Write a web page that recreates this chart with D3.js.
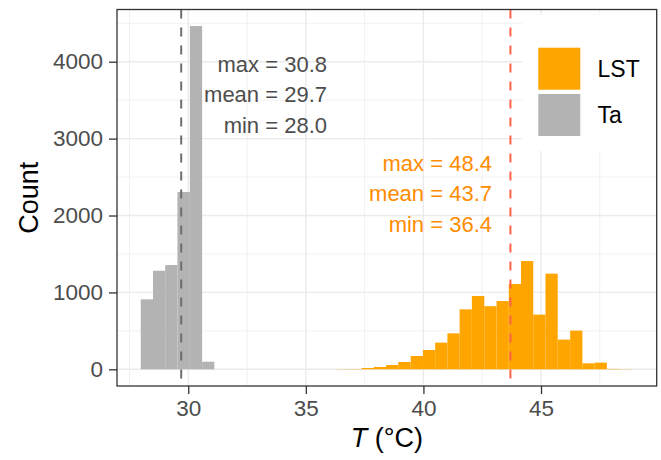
<!DOCTYPE html>
<html>
<head>
<meta charset="utf-8">
<script src="https://cdn.jsdelivr.net/npm/d3@7"></script>
<style>
  html, body { margin: 0; padding: 0; background: #ffffff; }
  svg { display: block; font-family: "Liberation Sans", Arial, sans-serif; }
</style>
</head>
<body>
<svg id="chart" width="661" height="460"></svg>
<script>
// ---- data ----
const taEdges  = [27.98, 28.50, 29.02, 29.54, 30.07, 30.59, 31.11];
const taCounts = [910, 1282, 1356, 2306, 4464, 99];
const lstEdges = [36.33, 36.85, 37.37, 37.89, 38.41, 38.93, 39.46, 39.98, 40.50, 41.02,
                  41.54, 42.06, 42.59, 43.11, 43.63, 44.15, 44.67, 45.19, 45.71, 46.24,
                  46.76, 47.28, 47.80, 48.32, 48.84];
const lstCounts = [3, 4, 17, 30, 56, 95, 173, 251, 347, 468, 780, 953, 821, 888, 1109,
                   1408, 711, 1244, 386, 503, 78, 87, 5, 3];
const seriesNames = ["LST", "Ta"];
const taStats  = ["max = 30.8", "mean = 29.7", "min = 28.0"];
const lstStats = ["max = 48.4", "mean = 43.7", "min = 36.4"];
const taMean = 29.7, lstMean = 43.7;
const xTicks = [30, 35, 40, 45];
const xMinor = [27.5, 32.5, 37.5, 42.5, 47.5];
const yTicks = [0, 1000, 2000, 3000, 4000];
const yMinor = [500, 1500, 2500, 3500, 4500];

// ---- layout ----
const svg = d3.select("#chart");
const P = { left: 117, right: 656.7, top: 9.5, bottom: 386 };
const x = d3.scaleLinear().domain([26.97, 49.92]).range([P.left, P.right]);
const y = d3.scaleLinear().domain([-217, 4679]).range([P.bottom, P.top]);
const colors = { LST: "#FFA500", Ta: "#B3B3B3" };

// panel background
svg.append("rect").attr("x", P.left).attr("y", P.top)
  .attr("width", P.right - P.left).attr("height", P.bottom - P.top).attr("fill", "#fff");

const grid = svg.append("g");
grid.selectAll(".xm").data(xMinor).join("line")
  .attr("x1", d => x(d)).attr("x2", d => x(d)).attr("y1", P.top).attr("y2", P.bottom)
  .attr("stroke", "#EBEBEB").attr("stroke-width", 0.7);
grid.selectAll(".ym").data(yMinor).join("line")
  .attr("y1", d => y(d)).attr("y2", d => y(d)).attr("x1", P.left).attr("x2", P.right)
  .attr("stroke", "#EBEBEB").attr("stroke-width", 0.7);
grid.selectAll(".xM").data(xTicks).join("line")
  .attr("x1", d => x(d)).attr("x2", d => x(d)).attr("y1", P.top).attr("y2", P.bottom)
  .attr("stroke", "#EBEBEB").attr("stroke-width", 1.4);
grid.selectAll(".yM").data(yTicks).join("line")
  .attr("y1", d => y(d)).attr("y2", d => y(d)).attr("x1", P.left).attr("x2", P.right)
  .attr("stroke", "#EBEBEB").attr("stroke-width", 1.4);

// bars
function bins(edges, counts) {
  return counts.map((c, i) => ({ x0: edges[i], x1: edges[i + 1], c }));
}
svg.append("g").selectAll("rect").data(bins(lstEdges, lstCounts)).join("rect")
  .attr("x", d => x(d.x0)).attr("width", d => x(d.x1) - x(d.x0))
  .attr("y", d => y(d.c)).attr("height", d => y(0) - y(d.c))
  .attr("fill", colors.LST);
svg.append("g").selectAll("rect").data(bins(taEdges, taCounts)).join("rect")
  .attr("x", d => x(d.x0)).attr("width", d => x(d.x1) - x(d.x0))
  .attr("y", d => y(d.c)).attr("height", d => y(0) - y(d.c))
  .attr("fill", colors.Ta);

// mean lines
svg.append("line").attr("x1", x(taMean)).attr("x2", x(taMean))
  .attr("y1", P.top).attr("y2", P.bottom)
  .attr("stroke", "#6E6E6E").attr("stroke-width", 2).attr("stroke-dasharray", "9,9");
svg.append("line").attr("x1", x(lstMean)).attr("x2", x(lstMean))
  .attr("y1", P.top).attr("y2", P.bottom)
  .attr("stroke", "#FF6347").attr("stroke-width", 2).attr("stroke-dasharray", "9,9");

// annotations
svg.append("g").selectAll("text").data(taStats).join("text")
  .attr("x", 327).attr("y", (d, i) => 64 + i * 30.5).attr("dy", "0.35em")
  .attr("text-anchor", "end").attr("font-size", 22).attr("fill", "#4D4D4D").text(d => d);
svg.append("g").selectAll("text").data(lstStats).join("text")
  .attr("x", 492).attr("y", (d, i) => 163 + i * 30.5).attr("dy", "0.35em")
  .attr("text-anchor", "end").attr("font-size", 22).attr("fill", "#FF8C00").text(d => d);

// legend
const lg = svg.append("g");
lg.append("rect").attr("x", 522).attr("y", 15).attr("width", 134).attr("height", 136).attr("fill", "#fff");
seriesNames.forEach((s, i) => {
  lg.append("rect").attr("x", 538.3).attr("y", 47.7 + i * 46.3).attr("width", 42).attr("height", 42)
    .attr("fill", colors[s]);
  lg.append("text").attr("x", 597.5).attr("y", 68.7 + i * 46.3).attr("dy", "0.35em")
    .attr("font-size", 23).attr("fill", "#000").text(s);
});

// panel border
svg.append("rect").attr("x", P.left).attr("y", P.top)
  .attr("width", P.right - P.left).attr("height", P.bottom - P.top)
  .attr("fill", "none").attr("stroke", "#333333").attr("stroke-width", 1.3);

// axes
const xAxis = svg.append("g").attr("transform", `translate(0,${P.bottom})`)
  .call(d3.axisBottom(x).tickValues(xTicks).tickSize(8).tickPadding(6).tickFormat(d3.format("d")));
const yAxis = svg.append("g").attr("transform", `translate(${P.left},0)`)
  .call(d3.axisLeft(y).tickValues(yTicks).tickSize(8).tickPadding(6).tickFormat(d3.format("d")));
[xAxis, yAxis].forEach(a => {
  a.select(".domain").remove();
  a.selectAll(".tick line").attr("stroke", "#333333").attr("stroke-width", 1.3);
  a.selectAll(".tick text").attr("fill", "#4D4D4D").attr("font-size", 22.5)
    .attr("font-family", "'Liberation Sans', Arial, sans-serif");
});

// axis titles
const xt = svg.append("text").attr("x", (P.left + P.right) / 2).attr("y", 447)
  .attr("text-anchor", "middle").attr("font-size", 27).attr("fill", "#000");
xt.append("tspan").attr("font-style", "italic").text("T");
xt.append("tspan").text(" (°C)");
svg.append("text").attr("transform", `translate(38,${(P.top + P.bottom) / 2}) rotate(-90)`)
  .attr("text-anchor", "middle").attr("font-size", 27).attr("fill", "#000").text("Count");
</script>
</body>
</html>
